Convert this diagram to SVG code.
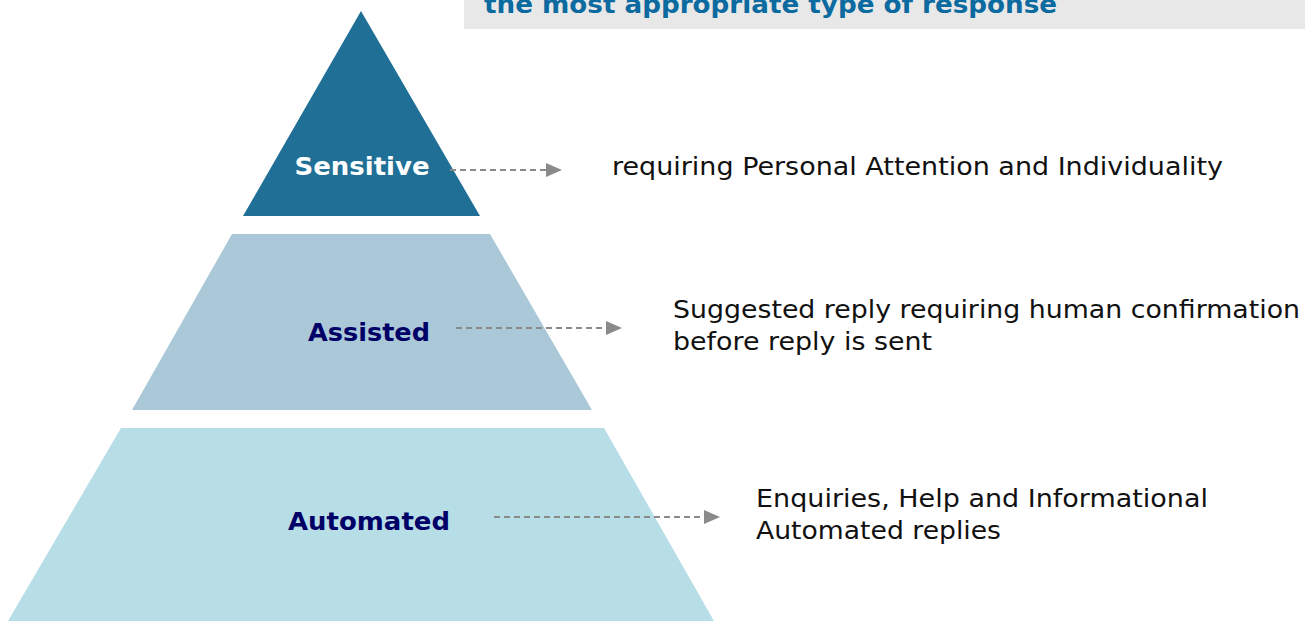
<svg xmlns="http://www.w3.org/2000/svg" width="1305" height="622" viewBox="0 0 1305 622">
<style>
.lbl{font-family:"DejaVu Sans",Verdana,sans-serif;font-weight:bold;font-size:25px;text-anchor:middle}
.desc{font-family:"DejaVu Sans",Verdana,sans-serif;font-size:25px;fill:#111}
.conn{stroke:#8a8a8a;stroke-width:2;stroke-dasharray:6,4;fill:none}
.head{font-family:"DejaVu Sans",Verdana,sans-serif;font-weight:bold;font-size:25px;fill:#0b6a9f}
</style>
<rect width="1305" height="622" fill="#ffffff"/>
<g id="header">
<rect x="464" y="0" width="841" height="29" fill="#e8e8e8"/>
<text class="head" x="484" y="13" textLength="573" lengthAdjust="spacingAndGlyphs">the most appropriate type of response</text>
</g>
<g id="sensitive">
<polygon points="361,11 480,216 243,216" fill="#206f96"/>
<text class="lbl" x="362" y="175" fill="#ffffff" textLength="135" lengthAdjust="spacingAndGlyphs">Sensitive</text>
</g>
<g id="assisted">
<polygon points="232,234 490,234 592,410 132,410" fill="#abc8d8"/>
<text class="lbl" x="369" y="341" fill="#000066" textLength="122" lengthAdjust="spacingAndGlyphs">Assisted</text>
</g>
<g id="automated">
<polygon points="121,428 604,428 714,621 8,621" fill="#b7dde7"/>
<text class="lbl" x="369" y="530" fill="#000066" textLength="162" lengthAdjust="spacingAndGlyphs">Automated</text>
</g>
<g id="connectors">
<line class="conn" x1="450" y1="170" x2="546" y2="170"/>
<path d="M546,163 L562,170 L546,177 Z" fill="#8a8a8a"/>
<line class="conn" x1="456" y1="328" x2="606" y2="328"/>
<path d="M606,321 L622,328 L606,335 Z" fill="#8a8a8a"/>
<line class="conn" x1="494" y1="517" x2="704" y2="517"/>
<path d="M704,510 L720,517 L704,524 Z" fill="#8a8a8a"/>
</g>
<g id="desc-sensitive">
<text class="desc" x="612" y="175" textLength="611" lengthAdjust="spacingAndGlyphs">requiring Personal Attention and Individuality</text>
</g>
<g id="desc-assisted">
<text class="desc" x="673" y="318" textLength="627" lengthAdjust="spacingAndGlyphs">Suggested reply requiring human confirmation</text>
<text class="desc" x="673" y="350" textLength="259" lengthAdjust="spacingAndGlyphs">before reply is sent</text>
</g>
<g id="desc-automated">
<text class="desc" x="756" y="507" textLength="452" lengthAdjust="spacingAndGlyphs">Enquiries, Help and Informational</text>
<text class="desc" x="756" y="539" textLength="245" lengthAdjust="spacingAndGlyphs">Automated replies</text>
</g>
</svg>
